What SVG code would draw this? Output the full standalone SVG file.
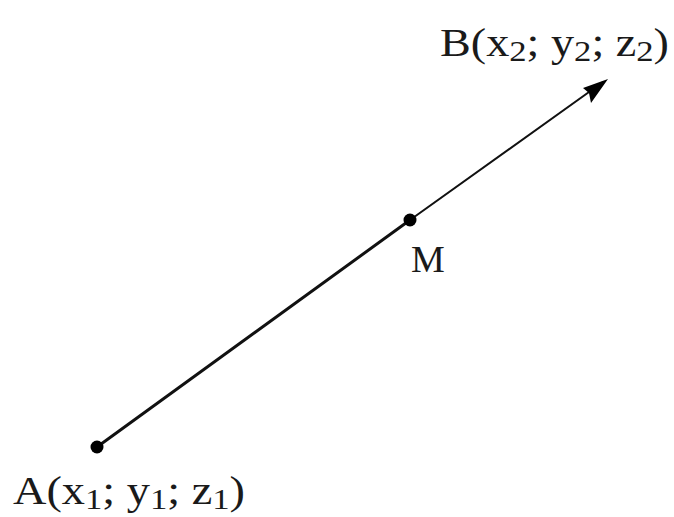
<svg xmlns="http://www.w3.org/2000/svg" width="674" height="517" viewBox="0 0 674 517">
<defs>
<style>
.lbl{font-family:"Liberation Serif","Times New Roman",serif;fill:#1a1a1a;}
.sub{font-size:30px;}
.seg{stroke:#111;fill:none;stroke-linecap:round;}
.pt{fill:#000;}
</style>
</defs>
<rect width="674" height="517" fill="#fff"/>
<g id="connectors">
<line class="seg" x1="97" y1="447" x2="410" y2="220" stroke-width="3"/>
<path class="seg" d="M410,220 L603,82" stroke-width="2"/>
<path d="M608,79 L583,88 L589,93 L591,103 Z" fill="#000"/>
</g>
<g id="A">
<circle class="pt" cx="97" cy="447" r="6.5"/>
<text class="lbl" x="13" y="504" font-size="40" textLength="232" lengthAdjust="spacingAndGlyphs">A(x<tspan class="sub" dy="5">1</tspan><tspan dy="-5">; y</tspan><tspan class="sub" dy="5">1</tspan><tspan dy="-5">; z</tspan><tspan class="sub" dy="5">1</tspan><tspan dy="-5">)</tspan></text>
</g>
<g id="M">
<circle class="pt" cx="410" cy="220" r="6.5"/>
<text class="lbl" x="411" y="272" font-size="38">M</text>
</g>
<g id="B">
<text class="lbl" x="440" y="56" font-size="40" textLength="229" lengthAdjust="spacingAndGlyphs">B(x<tspan class="sub" dy="5">2</tspan><tspan dy="-5">; y</tspan><tspan class="sub" dy="5">2</tspan><tspan dy="-5">; z</tspan><tspan class="sub" dy="5">2</tspan><tspan dy="-5">)</tspan></text>
</g>
</svg>
